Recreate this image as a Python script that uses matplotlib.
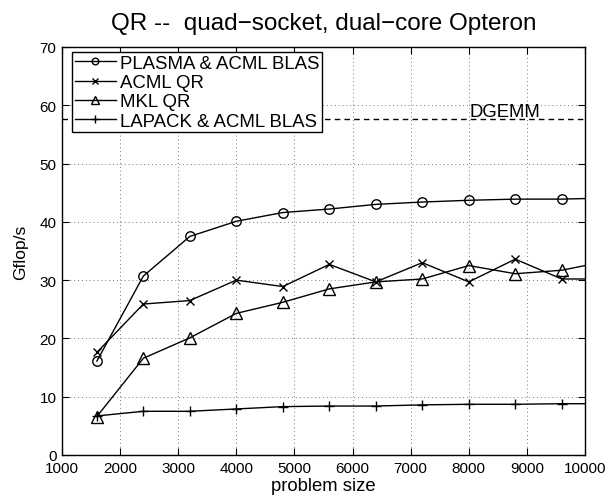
import matplotlib
matplotlib.use("Agg")
import matplotlib.pyplot as plt

plt.rcParams['font.family'] = ['Liberation Sans', 'DejaVu Sans']

sizes = [1600, 2400, 3200, 4000, 4800, 5600, 6400, 7200, 8000, 8800, 9600, 10400]
plasma = [16.1, 30.7, 37.5, 40.1, 41.6, 42.2, 43.0, 43.4, 43.7, 43.9, 43.9, 44.1]
acml = [17.6, 25.9, 26.5, 30.0, 28.9, 32.7, 29.7, 33.0, 29.7, 33.6, 30.2, 30.2]
mkl = [6.6, 16.6, 20.1, 24.3, 26.2, 28.5, 29.7, 30.2, 32.5, 31.1, 31.7, 33.3]
lapack = [6.7, 7.5, 7.5, 7.9, 8.3, 8.4, 8.4, 8.6, 8.7, 8.7, 8.8, 8.8]
dgemm = 57.6

fig = plt.figure(figsize=(6.07, 5.02), dpi=100)
ax = fig.add_axes([62/607, 1-456/502, (585-62)/607, (456-48)/502])

ax.plot(sizes, plasma, 'k-o', mfc='none', ms=6.8, mew=1.0, lw=1.0, label='PLASMA & ACML BLAS')
ax.plot(sizes, acml, 'k-x', ms=5.5, mew=1.0, lw=1.0, label='ACML QR')
ax.plot(sizes, mkl, 'k-^', mfc='none', ms=8, mew=1.0, lw=1.0, label='MKL QR')
ax.plot(sizes, lapack, 'k-+', ms=7.5, mew=1.0, lw=1.0, label='LAPACK & ACML BLAS')
ax.axhline(dgemm, color='k', ls=(0, (4, 3)), lw=1.0)
ax.text(8620, 58.2, 'DGEMM', fontsize=13.3, ha='center', va='baseline')

ax.set_xlim(1000, 10000)
ax.set_ylim(0, 70)
ax.set_xticks(range(1000, 10001, 1000))
ax.set_yticks(range(0, 71, 10))
ax.grid(True, ls=(0, (1, 3)), color='#777777', lw=0.7)
ax.tick_params(direction='in', top=True, right=True, labelsize=11, length=5, pad=4)
for s in ax.spines.values():
    s.set_linewidth(1.0)
ax.set_xlabel('problem size', fontsize=13.3, labelpad=2)
ax.set_ylabel('Gflop/s', fontsize=12.5, labelpad=8)
ax.set_title('QR --  quad\u2212socket, dual\u2212core Opteron', fontsize=17.5, pad=13)

leg = ax.legend(loc='upper left', bbox_to_anchor=(0.0191, 0.9877), borderaxespad=0,
                fontsize=13.4, fancybox=False, framealpha=1, markerscale=0.7,
                edgecolor='k', handlelength=2.2, handletextpad=0.22,
                borderpad=0.15, labelspacing=0.12)
leg.get_frame().set_linewidth(1.0)

fig.savefig('out.png', dpi=100)
